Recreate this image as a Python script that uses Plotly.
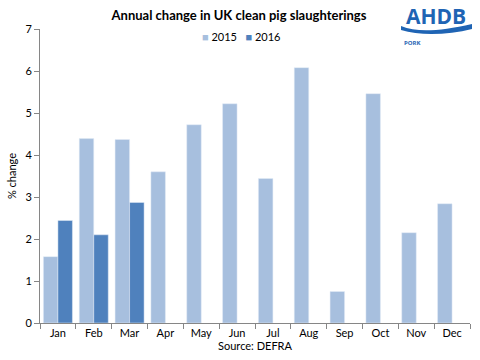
import plotly.graph_objects as go

months = ["Jan", "Feb", "Mar", "Apr", "May", "Jun", "Jul", "Aug", "Sep", "Oct", "Nov", "Dec"]
y2015 = [1.58, 4.39, 4.37, 3.60, 4.72, 5.22, 3.44, 6.08, 0.75, 5.46, 2.15, 2.84]
y2016 = [2.44, 2.10, 2.87, None, None, None, None, None, None, None, None, None]
series_names = ["2015", "2016"]
series_colors = ["#A7BFDE", "#4F81BD"]

FONT = "Lato, 'Open Sans', sans-serif"
W, H = 480, 360
L, R, T, B = 40, 10, 29, 37
PW, PH = W - L - R, H - T - B

def px(x):
    return (x - L) / PW

def py(y):
    return (H - B - y) / PH

fig = go.Figure()
for name, vals, col in zip(series_names, [y2015, y2016], series_colors):
    fig.add_trace(go.Bar(name=name, x=months, y=vals, marker_color=col, showlegend=False))

path = (f"M {px(401)},{py(26)} "
        f"C {px(418)},{py(33)} {px(440)},{py(31)} {px(472)},{py(24)} "
        f"L {px(472)},{py(29)} "
        f"C {px(448)},{py(35)} {px(420)},{py(36)} {px(401)},{py(30)} Z")

legend_text = "&nbsp;&nbsp;&nbsp;".join(
    f'<span style="color:{c}">■</span> {n}' for n, c in zip(series_names, series_colors))

fig.update_layout(
    width=W, height=H,
    margin=dict(l=L, r=R, t=T, b=B, autoexpand=False),
    paper_bgcolor="white", plot_bgcolor="white",
    font=dict(family=FONT, size=11, color="#000000"),
    barmode="group", bargap=0.19, bargroupgap=0,
    title=dict(text="<b>Annual change in UK clean pig slaughterings</b>",
               x=239 / W, xanchor="center", y=1 - 15 / H, yanchor="middle",
               font=dict(size=13, family=FONT, color="#000000")),
    xaxis=dict(showline=True, linecolor="#868686", linewidth=1,
               ticks="outside", tickson="boundaries", ticklen=5, tickcolor="#868686",
               tickfont=dict(size=11), showgrid=False,
               title=dict(text="Source: DEFRA", standoff=2, font=dict(size=11))),
    yaxis=dict(range=[0, 7], dtick=1, showline=True, linecolor="#868686", linewidth=1,
               ticks="outside", ticklen=5, tickcolor="#868686", showgrid=False,
               zeroline=False, tickfont=dict(size=11),
               title=dict(text="% change", standoff=6, font=dict(size=11))),
    shapes=[dict(type="path", xref="paper", yref="paper", path=path,
                 fillcolor="#1F64B4", line=dict(width=0))],
    annotations=[
        dict(text=legend_text, xref="paper", yref="paper", x=px(241), y=py(36),
             xanchor="center", yanchor="middle", showarrow=False,
             font=dict(size=11, family=FONT, color="#000000")),
        dict(text="<b>AHDB</b>", xref="paper", yref="paper", x=px(436), y=py(16),
             xanchor="center", yanchor="middle", showarrow=False,
             font=dict(size=21, family="'Open Sans', sans-serif", color="#1F64B4")),
        dict(text="<b>PORK</b>", xref="paper", yref="paper", x=px(402), y=py(43),
             xanchor="left", yanchor="middle", showarrow=False,
             font=dict(size=6, family="'Open Sans', sans-serif", color="#1F64B4")),
    ],
)

fig.write_html("out.html", config={"displayModeBar": False},
               post_script="document.body.style.margin='0';")
